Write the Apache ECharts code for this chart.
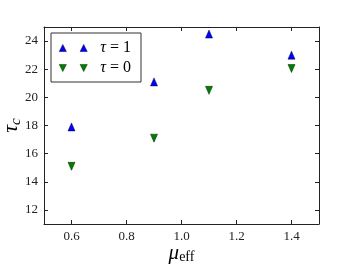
<!DOCTYPE html>
<html><head><meta charset="utf-8">
<script src="https://cdn.jsdelivr.net/npm/echarts@6/dist/echarts.min.js"></script>
<style>html,body{margin:0;padding:0;background:#fff}#c{width:354px;height:267px}</style>
</head><body><div id="c"></div>
<script>
const muEff = [0.6, 0.9, 1.1, 1.4];
const tauC1 = [17.9, 21.1, 24.5, 23.0];
const tauC0 = [15.1, 17.1, 20.5, 22.05];
const seriesNames = ['τ = 1', 'τ = 0'];
const xTicks = [0.6, 0.8, 1.0, 1.2, 1.4];
const yTicks = [12, 14, 16, 18, 20, 22, 24];

const F = 'Liberation Serif, DejaVu Serif, serif';
const axisCol = '#222';
const twoUp = 'path://M0,10L5,0L10,10Z M29.4,10L34.4,0L39.4,10Z';
const twoDown = 'path://M0,0L5,10L10,0Z M29.4,0L34.4,10L39.4,0Z';

function xAx(pos, show) {
  return {
    type: 'value', position: pos, min: 0.5, max: 1.5, interval: 0.2,
    axisLine: {show: true, onZero: false, lineStyle: {color: axisCol, width: 1}},
    axisTick: {show: true, inside: true, length: 4, lineStyle: {color: axisCol},
      customValues: xTicks},
    axisLabel: {show: show, fontFamily: F, fontSize: 13, color: '#222', margin: 6,
      customValues: xTicks, formatter: v => v.toFixed(1)},
    splitLine: {show: false}
  };
}
function yAx(pos, show) {
  return {
    type: 'value', position: pos, min: 11, max: 25, interval: 2,
    axisLine: {show: true, onZero: false, lineStyle: {color: axisCol, width: 1}},
    axisTick: {show: true, inside: true, length: 4, lineStyle: {color: axisCol},
      customValues: yTicks},
    axisLabel: {show: show, fontFamily: F, fontSize: 13, color: '#222', margin: 6,
      customValues: yTicks},
    splitLine: {show: false}
  };
}
const xMain = xAx('bottom', true);
xMain.name = '{m|μ}{s|eff}';
xMain.nameLocation = 'middle';
xMain.nameGap = 18;
xMain.nameMoveOverlap = false;
xMain.nameTextStyle = {fontFamily: F, color: '#000', rich: {
  m: {fontSize: 21, fontStyle: 'italic', fontFamily: F, color: '#000'},
  s: {fontSize: 14, fontFamily: F, color: '#000', padding: [8, 0, 0, 0]}
}};
const yMain = yAx('left', true);
yMain.name = '{t|τ}{s|c}';
yMain.nameLocation = 'middle';
yMain.nameRotate = 90;
yMain.nameGap = 20;
yMain.nameMoveOverlap = false;
yMain.nameTextStyle = {fontFamily: F, color: '#000', rich: {
  t: {fontSize: 22, fontStyle: 'italic', fontFamily: F, color: '#000'},
  s: {fontSize: 15, fontStyle: 'italic', fontFamily: F, color: '#000', padding: [10, 0, 0, 0]}
}};

const chart = echarts.init(document.getElementById('c'), null, {renderer: 'canvas'});
chart.setOption({
  animation: false,
  backgroundColor: '#fff',
  grid: {left: 44, right: 35, top: 27, bottom: 43, containLabel: false, outerBoundsMode: 'none'},
  xAxis: [xMain, xAx('top', false)],
  yAxis: [yMain, yAx('right', false)],
  legend: {
    left: 51, top: 33, orient: 'vertical',
    backgroundColor: '#fff',
    borderColor: '#333', borderWidth: 1, borderRadius: 0,
    padding: [7, 10, 6, 8], itemGap: 4, itemWidth: 28, itemHeight: 8,
    itemStyle: {borderWidth: 0.5},
    formatter: n => n.replace('τ', '{i|τ}'),
    data: [
      {name: seriesNames[0], icon: twoUp},
      {name: seriesNames[1], icon: twoDown}
    ],
    textStyle: {fontFamily: F, fontSize: 16, color: '#000', lineHeight: 16, padding: [0, 0, 0, 8],
      rich: {i: {fontFamily: F, fontSize: 16, fontStyle: 'italic', color: '#000'}}}
  },
  series: [
    {name: seriesNames[0], type: 'scatter', symbol: 'triangle', symbolSize: [7, 8], z: 1,
     itemStyle: {color: '#0000ff', opacity: 1, borderColor: '#000033', borderWidth: 0.5},
     data: muEff.map((x, i) => [x, tauC1[i]])},
    {name: seriesNames[1], type: 'scatter', symbol: 'triangle', symbolRotate: 180, symbolSize: [7, 8], z: 1,
     itemStyle: {color: '#007f00', opacity: 1, borderColor: '#002200', borderWidth: 0.5},
     data: muEff.map((x, i) => [x, tauC0[i]])}
  ]
});
</script></body></html>
